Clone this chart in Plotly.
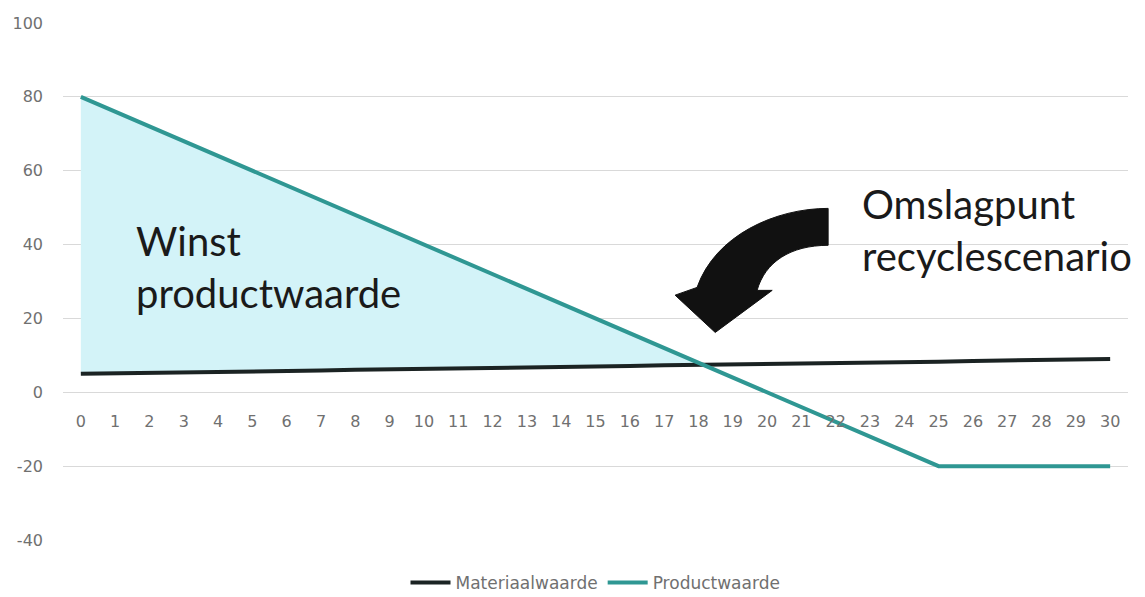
import numpy as np
import plotly.graph_objects as go

# Jaren (categorie-as)
jaren = list(range(0, 31))
x_labels = [str(j) for j in jaren]

# Waarde per jaar
materiaalwaarde = [5.0, 5.1, 5.3, 5.4, 5.5, 5.7, 5.8, 5.9, 6.1, 6.2, 6.3,
                   6.5, 6.6, 6.7, 6.9, 7.0, 7.1, 7.3, 7.4, 7.5, 7.7,
                   7.8, 7.9, 8.1, 8.2, 8.3, 8.5, 8.6, 8.7, 8.9, 9.0]
productwaarde = [80, 76, 72, 68, 64, 60, 56, 52, 48, 44, 40,
                 36, 32, 28, 24, 20, 16, 12, 8, 4, 0,
                 -4, -8, -12, -16, -20, -20, -20, -20, -20, -20]

y_ticks = [-40, -20, 0, 20, 40, 60, 80, 100]
y_labels = ["-40", "-20", "0", "20", "40", "60", "80", "100"]

GRID = "#d9d9d9"
TEXT = "#707070"
TEAL = "#2f9793"
DARK = "#1b2323"
FILL = "#d3f3f8"
TICK_FONT = "DejaVu Sans"
NOTE_FONT = "Lato"

# Snijpunt van beide lijnen: einde van het winstgebied
xm = np.array(jaren, dtype=float)
pm = np.array(productwaarde, dtype=float)
mm = np.array(materiaalwaarde, dtype=float)
diff = pm - mm
k = int(np.where(diff <= 0)[0][0])
t = diff[k - 1] / (diff[k - 1] - diff[k])
x_cross = xm[k - 1] + t
y_cross = mm[k - 1] + t * (mm[k] - mm[k - 1])

fill_x = list(xm[:k]) + [x_cross] + list(xm[:k][::-1])
fill_y = list(pm[:k]) + [y_cross] + list(mm[:k][::-1])

fig = go.Figure()

fig.add_trace(go.Scatter(
    x=fill_x, y=fill_y, fill="toself", fillcolor=FILL,
    line=dict(width=0), mode="lines", hoverinfo="skip", showlegend=False,
))
fig.add_trace(go.Scatter(
    x=jaren, y=materiaalwaarde, name="Materiaalwaarde", mode="lines",
    line=dict(color=DARK, width=4),
))
fig.add_trace(go.Scatter(
    x=jaren, y=productwaarde, name="Productwaarde", mode="lines",
    line=dict(color=TEAL, width=4),
))

# Gebogen pijl naar het omslagpunt
arrow_path = (
    "M 21.78,49.8 C 20.24,49.8 18.49,42.5 17.96,28.4 "
    "L 17.32,26.3 L 18.49,16.2 L 20.15,27.6 L 19.71,27.6 "
    "C 19.94,35.2 20.67,39.8 21.78,39.8 Z"
)
fig.add_shape(type="path", path=arrow_path, xref="x", yref="y",
              fillcolor="#111111", line=dict(color="#111111", width=1))

fig.add_annotation(
    x=1.55, y=34.0, xref="x", yref="y", xanchor="left", yanchor="middle",
    text="Winst<br>productwaarde", showarrow=False, align="left",
    font=dict(family=NOTE_FONT, size=40, color="#1a1a1a"),
)
fig.add_annotation(
    x=22.7, y=44.0, xref="x", yref="y", xanchor="left", yanchor="middle",
    text="Omslagpunt<br>recyclescenario", showarrow=False, align="left",
    font=dict(family=NOTE_FONT, size=40, color="#1a1a1a"),
)

fig.update_layout(
    width=1145, height=597,
    margin=dict(l=63, r=17, t=23, b=57, autoexpand=False),
    paper_bgcolor="white", plot_bgcolor="white",
    font=dict(family=TICK_FONT, color=TEXT),
    legend=dict(orientation="h", x=0.5, xanchor="center", y=-0.083,
                yanchor="middle", font=dict(family=TICK_FONT, size=17, color=TEXT),
                itemwidth=40, tracegroupgap=0),
)
fig.update_xaxes(
    range=[-0.52, 30.52], tickvals=jaren, ticktext=x_labels,
    showgrid=False, zeroline=False, showline=False,
    anchor="free", position=(0 - (-40)) / 140,
    tickfont=dict(family=TICK_FONT, size=16, color=TEXT), ticklabelstandoff=18,
)
fig.update_yaxes(
    range=[-40, 100], tickvals=y_ticks, ticktext=y_labels,
    showgrid=True, gridcolor=GRID,
    gridwidth=1, zeroline=True, zerolinecolor=GRID, zerolinewidth=1,
    showline=False, tickfont=dict(family=TICK_FONT, size=16, color=TEXT),
    ticklabelstandoff=19,
)

fig.write_html("out.html")
